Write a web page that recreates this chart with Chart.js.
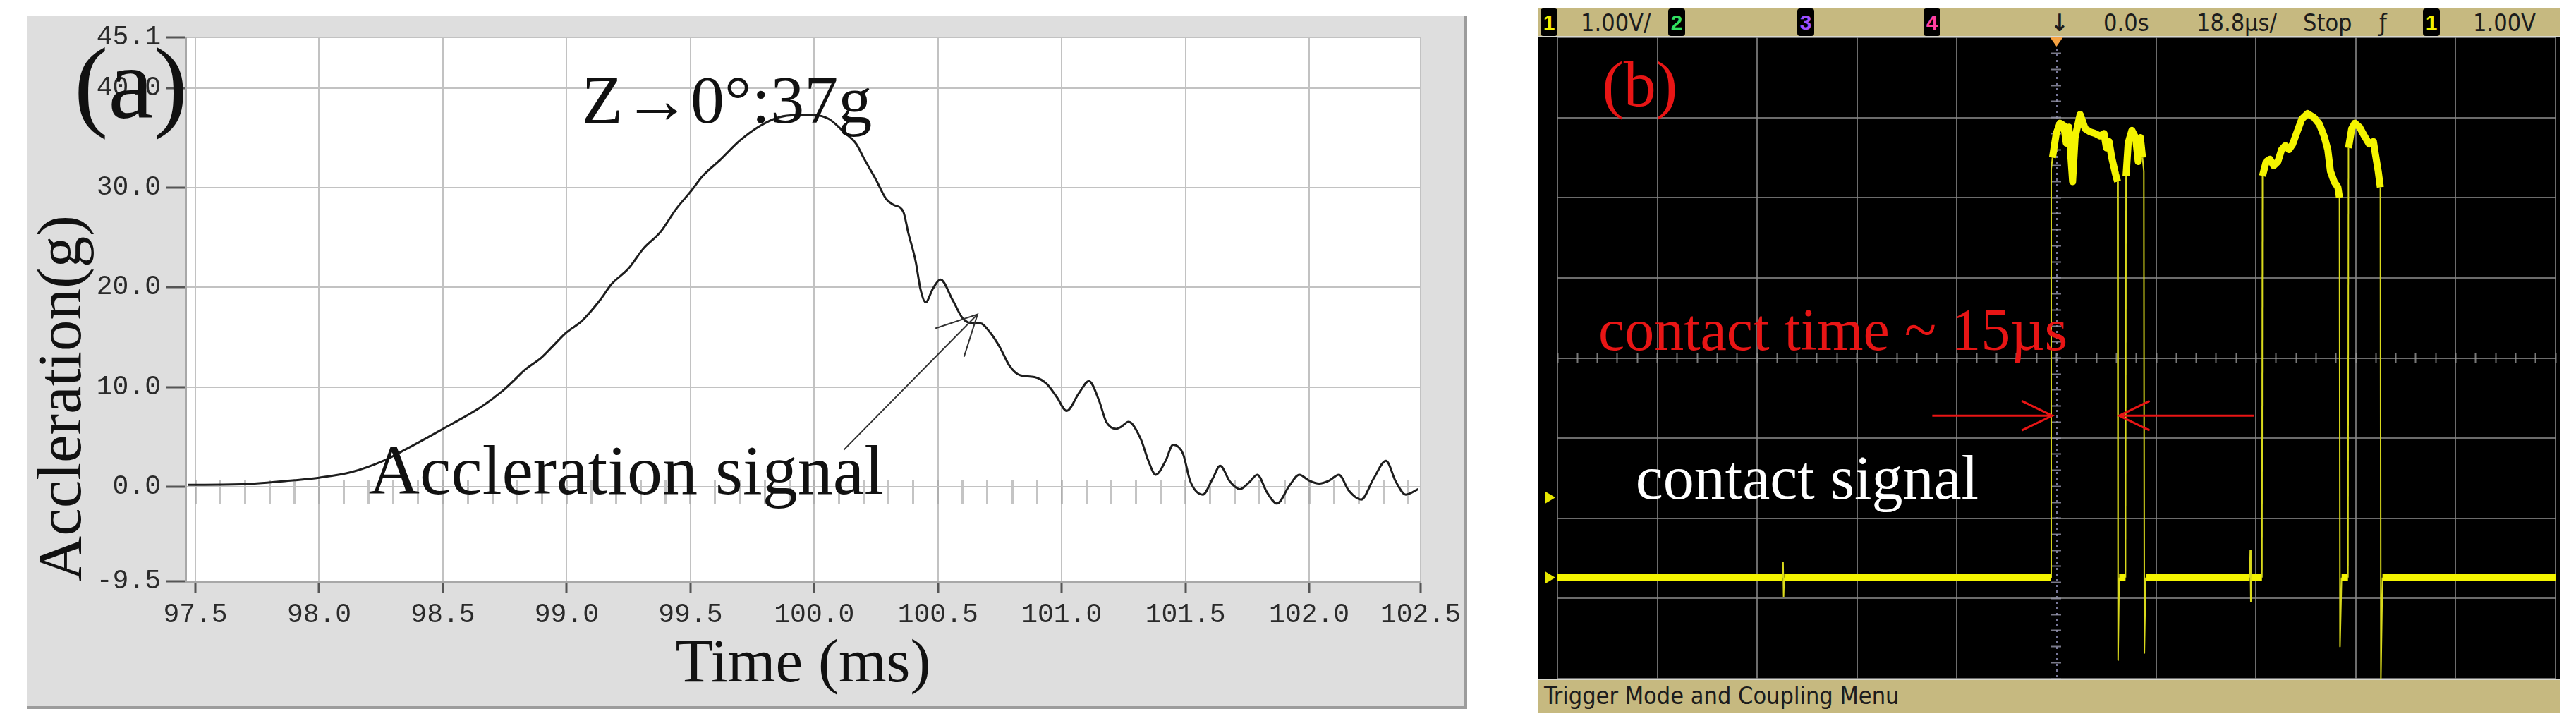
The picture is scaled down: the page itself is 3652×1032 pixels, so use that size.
<!DOCTYPE html>
<html>
<head>
<meta charset="utf-8">
<script src="https://cdn.jsdelivr.net/npm/chart.js"></script>
<style>
  body { margin: 0; background: #fff; width: 3652px; height: 1032px; overflow: hidden; position: relative; }
  #panelA { position: absolute; left: 38px; top: 23px; width: 2042px; height: 982px; background: #dedede;
            box-shadow: inset -4px -4px 0 #9c9c9c; }
  #panelA canvas { position: absolute; left: 0; top: 0; }
  #panelB { position: absolute; left: 2181px; top: 12px; width: 1448px; height: 999px; background: #000; }
  .bar { position: absolute; left: 0; width: 1448px; background: #c6b980; }
  .bar.top { top: 0; height: 41px; border-bottom: 2px solid #d8d8d0; box-sizing: border-box; }
  .bar.bottom { top: 950px; height: 49px; border-top: 2px solid #d8d8d0; box-sizing: border-box; }
  .lbl { position: absolute; top: 0; line-height: 40px; font-size: 34px; color: #1c1c1c;
         font-family: "Liberation Sans Narrow", "DejaVu Sans Condensed", "Liberation Sans", sans-serif; font-stretch: condensed; }
  .bar.bottom .lbl { line-height: 44px; }
  .ch { position: absolute; top: 0; width: 24px; height: 39px; background: #000; border-radius: 4px; text-align: center;
        line-height: 39px; font-size: 30px; font-weight: bold; font-family: "Liberation Sans Narrow", "Liberation Sans", sans-serif; }
  #scopeWrap { position: absolute; left: 0; top: 41px; width: 1448px; height: 909px; }
</style>
</head>
<body>
<div id="panelA"><canvas id="accelChart" width="2042" height="982"></canvas></div>
<div id="panelB">
  <div class="bar top">
    <span class="ch" style="left:3px;color:#f2f200">1</span>
    <span class="lbl" style="left:60px">1.00V/</span>
    <span class="ch" style="left:184px;color:#33e060">2</span>
    <span class="ch" style="left:367px;color:#a050ff">3</span>
    <span class="ch" style="left:546px;color:#ff3fa0">4</span>
    <span class="lbl" style="left:726px;font-weight:bold">↓</span>
    <span class="lbl" style="left:801px">0.0s</span>
    <span class="lbl" style="left:933px">18.8µs/</span>
    <span class="lbl" style="left:1084px">Stop</span>
    <span class="lbl" style="left:1192px">ƒ</span>
    <span class="ch" style="left:1254px;color:#f2f200">1</span>
    <span class="lbl" style="left:1325px">1.00V</span>
  </div>
  <div id="scopeWrap"><canvas id="scopeChart" width="1448" height="909"></canvas></div>
  <div class="bar bottom"><span class="lbl" style="left:8px">Trigger Mode and Coupling Menu</span></div>
</div>

<script>
// panel (a) : acceleration signal, time in ms, value in g
const accelTime = [97.47, 97.70, 97.90, 98.00, 98.13, 98.26, 98.35, 98.45, 98.50, 98.58,
  98.66, 98.74, 98.78, 98.83, 98.90, 98.94, 99.00, 99.06, 99.14, 99.18,
  99.25, 99.31, 99.38, 99.44, 99.50, 99.55, 99.62, 99.70, 99.78, 99.86,
  99.92, 100.00, 100.06, 100.12, 100.17, 100.20, 100.25, 100.29, 100.32, 100.36,
  100.38, 100.41, 100.43, 100.45, 100.48, 100.51, 100.56, 100.60, 100.64, 100.67,
  100.71, 100.75, 100.79, 100.83, 100.89, 100.94, 100.98, 101.02, 101.07, 101.11,
  101.15, 101.18, 101.22, 101.24, 101.27, 101.32, 101.35, 101.38, 101.42, 101.45,
  101.49, 101.52, 101.57, 101.61, 101.64, 101.68, 101.72, 101.76, 101.79, 101.83,
  101.87, 101.92, 101.96, 102.00, 102.04, 102.08, 102.12, 102.16, 102.21, 102.26,
  102.31, 102.35, 102.39, 102.44];
const accelValue = [0.18, 0.25, 0.64, 0.9, 1.46, 2.6, 3.75, 5.1, 5.8, 6.9,
  8.1, 9.6, 10.5, 11.7, 13.0, 14.0, 15.5, 16.6, 18.9, 20.3,
  21.9, 23.9, 25.6, 27.8, 29.6, 31.2, 32.8, 34.75, 36.2, 37.1,
  37.3, 37.3, 36.9, 35.6, 34.4, 33.0, 30.8, 28.9, 28.3, 27.6,
  25.5, 22.6, 19.75, 18.5, 19.9, 20.8, 18.7, 16.9, 16.4, 16.4,
  15.5, 14.0, 12.1, 11.2, 11.0, 10.3, 9.0, 7.6, 9.4, 10.6,
  8.7, 6.5, 5.8, 6.0, 6.5, 4.75, 2.6, 1.2, 2.6, 4.2,
  3.3, 0.5, -0.8, 0.8, 2.1, 0.5, -0.25, 0.5, 1.2, -0.6,
  -1.7, 0.1, 1.2, 0.6, 0.3, 0.6, 1.2, -0.4, -1.3, 0.8,
  2.6, 0.5, -0.8, -0.25];
const accelTicksY = [45.1, 40, 30, 20, 10, 0, -9.5];
// the last label sits on the right edge of the plot, a bit short of a full step
const accelTicksX = [97.5, 98.0, 98.5, 99.0, 99.5, 100.0, 100.5, 101.0, 101.5, 102.0, 102.45];
const accelTickLabels = ["97.5", "98.0", "98.5", "99.0", "99.5", "100.0", "100.5", "101.0", "101.5", "102.0", "102.5"];

// panel (b) : oscilloscope trace, time in µs, level in V (1 V / div)
const scopeTime = [-94, -51.6, -51.5, -51.4, -51.3, -1.1, -1.0, -0.76, -0.05, 0.66,
  1.37, 1.85, 2.32, 3.03, 3.5, 4.45, 5.4, 6.35, 7.3, 8.2,
  8.95, 9.4, 9.9, 10.4, 11.1, 11.5, 11.6, 11.8, 13.0, 13.1,
  13.5, 14.2, 14.9, 15.4, 15.8, 16.2, 16.45, 16.55, 16.8, 36.4,
  36.5, 36.6, 36.7, 38.7, 38.8, 39.5, 40.2, 40.9, 41.7, 42.4,
  43.1, 43.8, 44.5, 45.2, 46.2, 47.3, 48.5, 49.5, 50.4, 51.1,
  51.6, 52.3, 53.0, 53.3, 53.4, 53.7, 54.9, 55.0, 55.6, 56.2,
  57.1, 58.0, 58.9, 59.7, 60.1, 60.6, 61.0, 61.1, 61.4, 94];
const scopeVolt = [-2.74, -2.74, -2.55, -2.98, -2.74, -2.74, 2.36, 2.5, 2.8, 2.93,
  2.9, 2.68, 2.88, 2.2, 2.75, 3.04, 2.86, 2.82, 2.8, 2.77,
  2.8, 2.62, 2.7, 2.5, 2.3, 2.2, -3.77, -2.74, -2.74, 2.27,
  2.68, 2.84, 2.75, 2.45, 2.75, 2.5, 2.33, -3.68, -2.74, -2.74,
  -2.4, -3.04, -2.74, -2.74, 2.27, 2.45, 2.48, 2.4, 2.45, 2.6,
  2.65, 2.6, 2.67, 2.8, 2.98, 3.05, 3.0, 2.92, 2.77, 2.6,
  2.33, 2.2, 2.13, 2.0, -3.6, -2.74, -2.74, 2.62, 2.86, 2.93,
  2.88, 2.77, 2.67, 2.7, 2.53, 2.33, 2.13, -4.0, -2.74, -2.74];
const scopeTimeTicks = [-94, -75.2, -56.4, -37.6, -18.8, 0, 18.8, 37.6, 56.4, 75.2, 94];
const scopeVoltTicks = [-4, -3, -2, -1, 0, 1, 2, 3, 4];

const SERIF = '"Liberation Serif", "Times New Roman", serif';

document.addEventListener("DOMContentLoaded", function () {
  renderAccelChart();
  renderScopeChart();
});

function drawArrow(ctx, x0, y0, x1, y1, head, spread) {
  const a = Math.atan2(y1 - y0, x1 - x0);
  ctx.beginPath();
  ctx.moveTo(x0, y0);
  ctx.lineTo(x1, y1);
  ctx.moveTo(x1 - head * Math.cos(a - spread), y1 - head * Math.sin(a - spread));
  ctx.lineTo(x1, y1);
  ctx.lineTo(x1 - head * Math.cos(a + spread), y1 - head * Math.sin(a + spread));
  ctx.stroke();
}

function renderAccelChart() {
  const notes = {
    id: 'accelNotes',
    beforeDraw(chart) {
      const {ctx, chartArea: a} = chart;
      ctx.save();
      ctx.fillStyle = '#ffffff';
      ctx.fillRect(a.left, a.top, a.right - a.left, a.bottom - a.top);
      ctx.restore();
    },
    afterDatasetsDraw(chart) {
      const {ctx, scales: {x, y}} = chart;
      ctx.save();
      ctx.fillStyle = '#111';
      ctx.textBaseline = 'alphabetic';
      ctx.font = '96px ' + SERIF;
      ctx.fillText('Z→0°:37g', x.getPixelForValue(99.06), y.getPixelForValue(36.5));
      ctx.font = '100px ' + SERIF;
      ctx.fillText('Accleration signal', x.getPixelForValue(98.20), y.getPixelForValue(-0.7));
      ctx.font = '145px ' + SERIF;
      ctx.fillText('(a)', 67, 144);
      ctx.strokeStyle = '#333';
      ctx.lineWidth = 2;
      drawArrow(ctx, x.getPixelForValue(100.12), y.getPixelForValue(3.7),
        x.getPixelForValue(100.66), y.getPixelForValue(17.3), 63, 0.47);
      ctx.restore();
    }
  };

  new Chart(document.getElementById("accelChart").getContext("2d"), {
    type: 'line',
    data: {
      datasets: [{
        data: accelTime.map((t, i) => ({x: t, y: accelValue[i]})),
        borderColor: '#1e1e1e',
        borderWidth: 3,
        pointRadius: 0,
        cubicInterpolationMode: 'monotone',
        xAxisID: 'x',
        yAxisID: 'y'
      }]
    },
    options: {
      responsive: false,
      animation: false,
      devicePixelRatio: 1,
      layout: { padding: { left: 0, top: 30, right: 66, bottom: 0 } },
      plugins: { legend: { display: false }, tooltip: { enabled: false } },
      scales: {
        x: {
          type: 'linear', position: 'bottom', min: 97.46, max: 102.45,
          afterBuildTicks: s => { s.ticks = accelTicksX.map(v => ({value: v})); },
          afterFit: s => { s.height = 181; },
          ticks: {
            autoSkip: false, maxRotation: 0, padding: 8, color: '#2a2a2a',
            font: { family: '"Liberation Mono", "DejaVu Sans Mono", monospace', size: 38 },
            callback: (v, i) => accelTickLabels[i]
          },
          grid: { color: '#c2c2c2', lineWidth: 2, tickLength: 17, tickColor: '#555', tickWidth: 3 },
          border: { display: true, color: '#a8a8a8', width: 3 },
          title: {
            display: true, text: 'Time (ms)', color: '#111',
            font: { family: SERIF, size: 87, lineHeight: 1.2 },
            padding: { top: 0, bottom: 10 }
          }
        },
        xMinor: {
          type: 'linear', min: 97.46, max: 102.45, position: { y: 0.72 },
          ticks: { display: false, stepSize: 0.1, includeBounds: false },
          grid: { drawOnChartArea: false, tickLength: 34, tickColor: 'rgba(165,165,165,0.65)', tickWidth: 3 },
          border: { display: false }
        },
        y: {
          type: 'linear', position: 'left', min: -9.5, max: 45.1,
          afterBuildTicks: s => { s.ticks = accelTicksY.map(v => ({value: v})); },
          afterFit: s => { s.width = 225; },
          ticks: {
            autoSkip: false, padding: 7, color: '#2a2a2a',
            font: { family: '"Liberation Mono", "DejaVu Sans Mono", monospace', size: 38 },
            callback: v => v.toFixed(1)
          },
          grid: { color: '#c2c2c2', lineWidth: 2, tickLength: 28, tickColor: '#555', tickWidth: 3 },
          border: { display: true, color: '#a8a8a8', width: 3 },
          title: {
            display: true, text: 'Accleration(g)', align: 'start', color: '#111',
            font: { family: SERIF, size: 89, lineHeight: 1 },
            padding: { top: 8, bottom: 0 }
          }
        }
      }
    },
    plugins: [notes]
  });
}

function renderScopeChart() {
  // near-vertical steps (switching edges, glitches) are thin, the rest of the trace is a thick noisy band
  const edge = c => Math.abs(c.p1.y - c.p0.y) > 15 && Math.abs(c.p1.x - c.p0.x) < 3;

  const notes = {
    id: 'scopeNotes',
    afterDatasetsDraw(chart) {
      const {ctx, scales: {x, y}} = chart;
      ctx.save();
      ctx.textBaseline = 'alphabetic';
      ctx.fillStyle = '#e81515';
      ctx.font = '92px ' + SERIF;
      ctx.fillText('(b)', x.getPixelForValue(-85.6), y.getPixelForValue(3.15));
      ctx.font = '84px ' + SERIF;
      ctx.fillText('contact time ~ 15µs', x.getPixelForValue(-86.3), y.getPixelForValue(0.1));
      ctx.fillStyle = '#ffffff';
      ctx.font = '88px ' + SERIF;
      ctx.fillText('contact signal', x.getPixelForValue(-79.3), y.getPixelForValue(-1.76));

      // contact time arrows
      ctx.strokeStyle = '#e81515';
      ctx.lineWidth = 3;
      const ya = y.getPixelForValue(-0.72);
      drawArrow(ctx, x.getPixelForValue(-23.4), ya, x.getPixelForValue(-0.8), ya, 48, 0.45);
      drawArrow(ctx, x.getPixelForValue(37.2), ya, x.getPixelForValue(11.8), ya, 48, 0.45);

      // trigger position and channel markers
      const xt = x.getPixelForValue(0);
      ctx.fillStyle = '#f5a142';
      ctx.beginPath();
      ctx.moveTo(xt - 9, 0); ctx.lineTo(xt + 9, 0); ctx.lineTo(xt, 13); ctx.closePath(); ctx.fill();
      ctx.fillStyle = '#e6e600';
      [-2.74, -1.74].forEach(v => {
        const yv = y.getPixelForValue(v);
        ctx.beginPath();
        ctx.moveTo(9, yv - 9); ctx.lineTo(24, yv); ctx.lineTo(9, yv + 9); ctx.closePath(); ctx.fill();
      });
      ctx.restore();
    }
  };

  const gridColor = c => (c.tick && c.tick.value === 0 ? 'rgba(140,140,180,0.85)' : 'rgba(135,135,135,0.8)');

  new Chart(document.getElementById("scopeChart").getContext("2d"), {
    type: 'line',
    data: {
      datasets: [{
        data: scopeTime.map((t, i) => ({x: t, y: scopeVolt[i]})),
        borderColor: '#f4f400',
        borderWidth: 10,
        pointRadius: 0,
        tension: 0,
        borderJoinStyle: 'round',
        segment: {
          borderWidth: c => (edge(c) ? 2 : 10),
          borderColor: c => (edge(c) ? '#d9d91c' : '#f4f400')
        },
        xAxisID: 'x',
        yAxisID: 'y'
      }]
    },
    options: {
      responsive: false,
      animation: false,
      devicePixelRatio: 1,
      layout: { padding: { left: 27, right: 6, top: 0, bottom: 0 } },
      plugins: { legend: { display: false }, tooltip: { enabled: false } },
      scales: {
        x: {
          type: 'linear', position: 'bottom', min: -94, max: 94,
          afterBuildTicks: s => { s.ticks = scopeTimeTicks.map(v => ({value: v})); },
          afterFit: s => { s.height = 0; },
          ticks: { display: false },
          grid: { color: gridColor, lineWidth: 2, drawTicks: false },
          border: { display: false, dash: c => (c.tick && c.tick.value === 0 ? [3, 5] : []) }
        },
        y: {
          type: 'linear', position: 'left', min: -4, max: 4,
          afterBuildTicks: s => { s.ticks = scopeVoltTicks.map(v => ({value: v})); },
          afterFit: s => { s.width = 0; },
          ticks: { display: false },
          grid: { color: 'rgba(135,135,135,0.8)', lineWidth: 2, drawTicks: false },
          border: { display: false }
        },
        x2: {
          type: 'linear', min: -94, max: 94, position: { y: 0.06 },
          ticks: { display: false, stepSize: 3.76 },
          grid: { drawOnChartArea: false, tickLength: 14, tickColor: 'rgba(150,150,150,0.8)', tickWidth: 2 },
          border: { display: false }
        },
        y2: {
          type: 'linear', min: -4, max: 4, position: { x: 0.93 },
          ticks: { display: false, stepSize: 0.2 },
          grid: { drawOnChartArea: false, tickLength: 14, tickColor: 'rgba(150,150,170,0.8)', tickWidth: 2 },
          border: { display: false }
        }
      }
    },
    plugins: [notes]
  });
}
</script>
</body>
</html>
